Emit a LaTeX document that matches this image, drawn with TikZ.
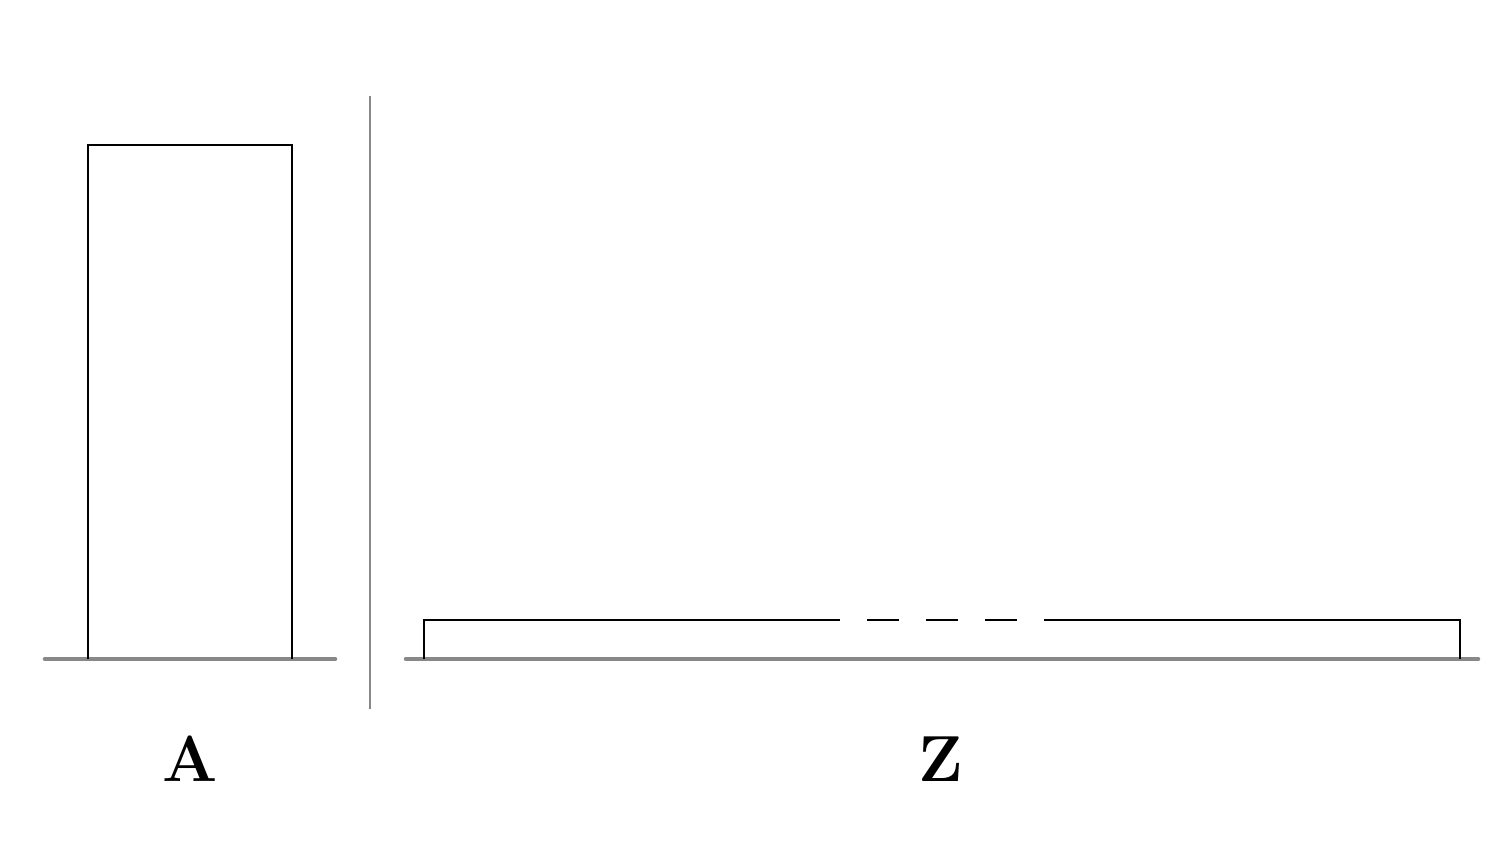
\documentclass[tikz,border=0pt]{standalone}
\usepackage{xcolor}
\usetikzlibrary{positioning}
\definecolor{groundgray}{HTML}{888888}
\tikzset{
  ground/.style={draw=groundgray,line width=1.3pt,line cap=round},
  divider/.style={draw=groundgray,line width=0.85pt},
  body/.style={draw=black,line width=0.75pt},
  gapdash/.style={body,dash pattern=on 0.32cm off 0.27cm},
  tag/.style={font=\fontsize{18.5}{22}\selectfont\bfseries,inner sep=0pt}
}
\begin{document}
\begin{tikzpicture}[x=0.01cm,y=-0.01cm]
  \useasboundingbox (0,0) rectangle (1500,854);
  % ground lines and divider
  \draw[ground] (45,659) -- (335,659);
  \draw[ground] (406,659) -- (1478,659);
  \draw[divider] (370,96) -- (370,709);
  % tall block
  \draw[body] (88,659) -- (88,145) -- (292,145) -- (292,659);
  % long flat block, broken in the middle
  \draw[body] (424,659) -- (424,620) -- (840,620);
  \draw[gapdash] (867,620) -- (1017,620);
  \draw[body] (1044,620) -- (1460,620) -- (1460,659);
  % labels
  \node[tag] (labA) at (190,759) {A};
  \node[tag] (labZ) at (941,759) {Z};
\end{tikzpicture}
\end{document}
